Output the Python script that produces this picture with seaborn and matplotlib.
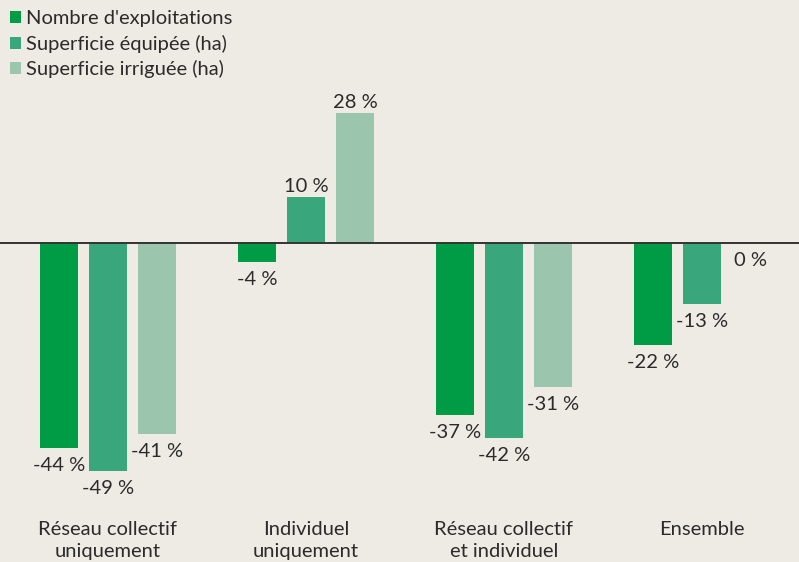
import pandas as pd
import matplotlib.pyplot as plt
import seaborn as sns

# Data
categories = ["Réseau collectif\nuniquement", "Individuel\nuniquement",
              "Réseau collectif\net individuel", "Ensemble"]
series = ["Nombre d'exploitations", "Superficie équipée (ha)", "Superficie irriguée (ha)"]
nb_exploitations = [-44, -4, -37, -22]
sup_equipee = [-49, 10, -42, -13]
sup_irriguee = [-41, 28, -31, 0]

colors = ["#009b45", "#3aa67c", "#9cc5ae"]
bg = "#eeebe5"
txt = "#2b2b2b"
fs = 14.5

df = pd.DataFrame({
    "cat": categories * 3,
    "serie": [s for s in series for _ in categories],
    "val": nb_exploitations + sup_equipee + sup_irriguee,
})

sns.set_style("white")
plt.rcParams["font.family"] = ["Lato", "DejaVu Sans"]

fig = plt.figure(figsize=(7.99, 5.62), dpi=100, facecolor=bg)
ax = fig.add_axes([0, 0, 1, 1])
ax.set_facecolor(bg)

sns.barplot(data=df, x="cat", y="val", hue="serie", order=categories,
            hue_order=series, palette=colors, width=0.742, gap=0.22,
            saturation=1, linewidth=0, ax=ax, legend=True)

ax.set_xlim(-0.545, 3.49)
ax.set_ylim(-68.6, 52.3)
ax.axhline(0, color="#333333", lw=1.4, zorder=5)
ax.set_xlabel("")
ax.set_ylabel("")
ax.set_xticks([])
ax.set_yticks([])
for s in ax.spines.values():
    s.set_visible(False)

# value labels
for cont in ax.containers:
    for p in cont:
        v = p.get_height()
        x = p.get_x() + p.get_width() / 2
        if v > 0:
            ax.annotate(f"{v:.0f} %", (x, v), xytext=(0, 1.5), textcoords="offset points",
                        ha="center", va="bottom", fontsize=fs, color=txt)
        else:
            ax.annotate(f"{v:.0f} %", (x, v), xytext=(0, -6.5), textcoords="offset points",
                        ha="center", va="top", fontsize=fs, color=txt)

# category labels
for i, c in enumerate(categories):
    ax.text(i, -59.8, c, ha="center", va="top", fontsize=fs, color=txt,
            linespacing=1.35)

ax.legend(loc="upper left", bbox_to_anchor=(0.0, 1.0), frameon=False,
          fontsize=fs, handlelength=0.55, handleheight=0.55, handletextpad=0.25,
          labelspacing=0.38, borderaxespad=0.25, borderpad=0.25, labelcolor=txt)

fig.savefig("out.png", dpi=100, facecolor=bg)
